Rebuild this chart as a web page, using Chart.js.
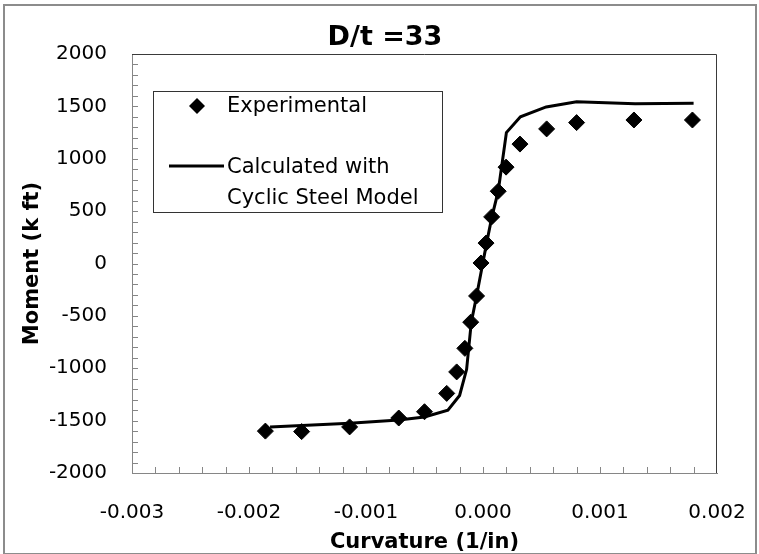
<!DOCTYPE html>
<html>
<head>
<meta charset="utf-8">
<script src="https://cdn.jsdelivr.net/npm/chart.js@4.4.1/dist/chart.umd.min.js"></script>
<style>
  html, body { margin: 0; padding: 0; background: #fff; }
  #myChart { display: block; }
</style>
</head>
<body>
<canvas id="myChart" width="759" height="554"></canvas>
<script>
const chartTitle = 'D/t =33';
const xAxisTitle = 'Curvature (1/in)';
const yAxisTitle = 'Moment (k ft)';
const legendLabels = ['Experimental', ['Calculated with', 'Cyclic Steel Model']];

// Experimental points
const expCurvature = [-0.00186, -0.00155, -0.00114, -0.00072, -0.0005, -0.00031, -0.000225, -0.000155, -0.000105, -0.000055,
  -0.000017, 0.000026, 0.000074, 0.00013, 0.000197, 0.000316, 0.000544, 0.0008, 0.00129, 0.00179];
const expMoment = [-1600, -1605, -1560, -1475, -1415, -1240, -1035, -810, -560, -310,
  5, 195, 445, 690, 920, 1140, 1285, 1345, 1370, 1370];

// Calculated with cyclic steel model
const calcCurvature = [-0.00182, -0.00114, -0.00072, -0.0005, -0.0003, -0.0002, -0.00014, -0.0001, -0.000055,
  0.00003, 0.000075, 0.00013, 0.0002, 0.00032, 0.00054, 0.0008, 0.0013, 0.0018];
const calcMoment = [-1560, -1525, -1495, -1465, -1400, -1260, -1010, -560, -310,
  190, 440, 690, 1250, 1400, 1495, 1545, 1525, 1530];

const xTicks = [-0.003, -0.002, -0.001, 0, 0.001, 0.002];
const yTicks = [-2000, -1500, -1000, -500, 0, 500, 1000, 1500, 2000];
const xMinorStep = 0.0002;
const yMinorStep = 100;

const FONT = 'DejaVu Sans';
const axisGray = '#868686';

const decorPlugin = {
  id: 'decor',
  beforeDraw(chart) {
    const ctx = chart.ctx;
    ctx.save();
    ctx.fillStyle = '#fff';
    ctx.fillRect(0, 0, chart.width, chart.height);
    ctx.strokeStyle = '#8c8c8c';
    ctx.lineWidth = 2;
    ctx.strokeRect(4, 5, chart.width - 7, chart.height - 5);
    ctx.restore();
  },
  afterDraw(chart) {
    const ctx = chart.ctx;
    const area = chart.chartArea;
    const xs = chart.scales.x, ys = chart.scales.y;
    ctx.save();

    // top and right frame of plot area
    ctx.strokeStyle = '#3a3a3a';
    ctx.lineWidth = 1;
    ctx.beginPath();
    ctx.moveTo(area.left, area.top + 0.5);
    ctx.lineTo(area.right - 0.5, area.top + 0.5);
    ctx.lineTo(area.right - 0.5, area.bottom);
    ctx.stroke();

    // inside tick marks (major + minor)
    ctx.strokeStyle = axisGray;
    ctx.beginPath();
    const nx = Math.round((xs.max - xs.min) / xMinorStep);
    for (let i = 1; i < nx; i++) {
      const px = Math.round(xs.getPixelForValue(xs.min + i * xMinorStep)) + 0.5;
      ctx.moveTo(px, area.bottom);
      ctx.lineTo(px, area.bottom - 6);
    }
    const ny = Math.round((ys.max - ys.min) / yMinorStep);
    for (let i = 1; i < ny; i++) {
      const py = Math.round(ys.getPixelForValue(ys.min + i * yMinorStep)) + 0.5;
      ctx.moveTo(area.left, py);
      ctx.lineTo(area.left + 6, py);
    }
    ctx.stroke();

    // title
    ctx.fillStyle = '#000';
    ctx.font = 'bold 27px "' + FONT + '"';
    ctx.textAlign = 'center';
    ctx.textBaseline = 'alphabetic';
    ctx.fillText(chartTitle, 385, 45);

    // axis titles
    ctx.font = 'bold 21px "' + FONT + '"';
    ctx.fillText(xAxisTitle, (area.left + area.right) / 2, 548);
    ctx.save();
    ctx.translate(33, (area.top + area.bottom) / 2);
    ctx.rotate(-Math.PI / 2);
    ctx.textBaseline = 'middle';
    ctx.fillText(yAxisTitle, 0, 0);
    ctx.restore();

    // legend box
    ctx.fillStyle = '#fff';
    ctx.fillRect(153, 91, 289, 121);
    ctx.strokeStyle = '#333';
    ctx.lineWidth = 1;
    ctx.strokeRect(153.5, 91.5, 289, 121);

    const ds0 = chart.data.datasets[0];
    const ds1 = chart.data.datasets[1];
    ctx.fillStyle = ds0.backgroundColor;
    ctx.beginPath();
    ctx.moveTo(197, 98);
    ctx.lineTo(205, 106);
    ctx.lineTo(197, 114);
    ctx.lineTo(189, 106);
    ctx.closePath();
    ctx.fill();

    ctx.strokeStyle = ds1.borderColor;
    ctx.lineWidth = ds1.borderWidth;
    ctx.beginPath();
    ctx.moveTo(169, 166);
    ctx.lineTo(224, 166);
    ctx.stroke();

    ctx.fillStyle = '#000';
    ctx.font = '21px "' + FONT + '"';
    ctx.textAlign = 'left';
    ctx.textBaseline = 'alphabetic';
    ctx.fillText(legendLabels[0], 227, 112);
    ctx.fillText(legendLabels[1][0], 227, 173);
    ctx.fillText(legendLabels[1][1], 227, 204);

    ctx.restore();
  }
};

const ctx = document.getElementById('myChart').getContext('2d');
const myChart = new Chart(ctx, {
  type: 'scatter',
  data: {
    datasets: [{
      label: legendLabels[0],
      data: expCurvature.map((x, i) => ({x: x, y: expMoment[i]})),
      pointStyle: 'rectRot',
      pointRadius: 8,
      pointHoverRadius: 8,
      backgroundColor: '#000',
      borderColor: '#000',
      borderWidth: 1,
      showLine: false
    }, {
      label: legendLabels[1].join(' '),
      data: calcCurvature.map((x, i) => ({x: x, y: calcMoment[i]})),
      showLine: true,
      borderColor: '#000',
      backgroundColor: '#000',
      borderWidth: 3,
      pointRadius: 0,
      tension: 0
    }]
  },
  options: {
    responsive: false,
    animation: false,
    devicePixelRatio: 1,
    layout: { padding: { top: 54, right: 42, left: 0, bottom: 0 } },
    plugins: {
      legend: { display: false },
      title: { display: false },
      tooltip: { enabled: false }
    },
    scales: {
      x: {
        type: 'linear',
        min: -0.003,
        max: 0.002,
        afterBuildTicks: s => { s.ticks = xTicks.map(v => ({value: v})); },
        // fixed plot box: drop the automatic label overflow padding
        afterFit: s => { s.height = 81; s.paddingLeft = 0; s.paddingRight = 0; },
        ticks: {
          padding: 28,
          color: '#000',
          font: { family: FONT, size: 20 },
          maxRotation: 0,
          autoSkip: false,
          callback: v => (Math.abs(v) < 1e-9 ? 0 : v).toFixed(3)
        },
        grid: { display: false, drawTicks: false },
        border: { display: true, color: axisGray, width: 1 }
      },
      y: {
        type: 'linear',
        min: -2000,
        max: 2000,
        afterBuildTicks: s => { s.ticks = yTicks.map(v => ({value: v})); },
        afterFit: s => { s.width = 132; s.paddingTop = 0; s.paddingBottom = 0; },
        ticks: {
          padding: 25,
          color: '#000',
          font: { family: FONT, size: 20 },
          autoSkip: false,
          callback: v => String(v)
        },
        grid: { display: false, drawTicks: false },
        border: { display: true, color: axisGray, width: 1 }
      }
    }
  },
  plugins: [decorPlugin]
});
</script>
</body>
</html>
